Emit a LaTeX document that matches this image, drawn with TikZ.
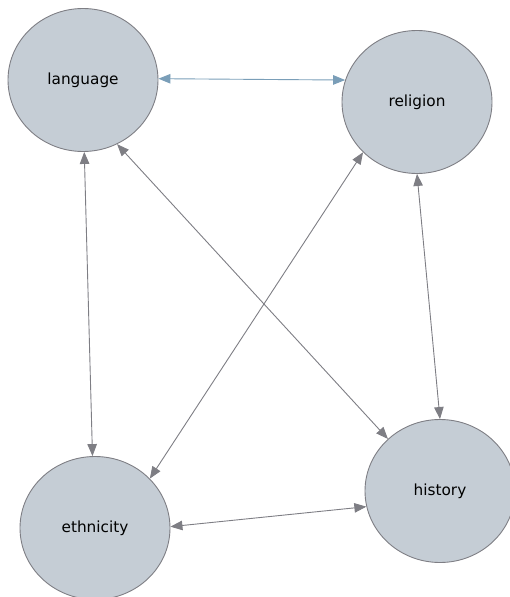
\documentclass[tikz,border=0pt]{standalone}
\usepackage{fontspec}
\setmainfont{DejaVu Sans}
\usepackage{tikz}
\usetikzlibrary{positioning}
\usetikzlibrary{shapes.geometric}
\usetikzlibrary{arrows.meta}
\pgfdeclarelayer{nodelayer}
\pgfdeclarelayer{edgelayer}
\pgfsetlayers{nodelayer,edgelayer,main}
\definecolor{topicfill}{HTML}{C5CDD5}
\definecolor{topicline}{HTML}{7E7E84}
\definecolor{linkgray}{HTML}{7E7E84}
\definecolor{linkblue}{HTML}{7A9EB8}
\tikzset{
    topic/.style = {ellipse, draw=topicline, fill=topicfill, line width=0.9pt,
                    minimum width=150pt, minimum height=143pt, inner sep=0pt,
                    font=\fontsize{15.3}{18}\selectfont},
    link/.style = {draw=linkgray, line width=0.9pt,
                   {Triangle[length=12pt,width=9.5pt]}-{Triangle[length=12pt,width=9.5pt]}},
    bluelink/.style = {link, draw=linkblue}
}
\begin{document}
\begin{tikzpicture}[x=1pt, y=-1pt]
  \useasboundingbox (0, 0) rectangle (509, 597);
  \begin{pgfonlayer}{nodelayer}
    \node [style=topic] (language) at (83, 80) {language};
    \node [style=topic] (religion) at (417, 102) {religion};
    \node [style=topic] (ethnicity) at (95, 528) {ethnicity};
    \node [style=topic] (history) at (440, 491) {history};
  \end{pgfonlayer}
  \begin{pgfonlayer}{edgelayer}
    \draw [style=bluelink] (language.1) to (religion.163);
    \draw [style=link] (language.-89) to (ethnicity.92);
    \draw [style=link] (language.-62) to (history.135);
    \draw [style=link] (religion.223) to (ethnicity.42);
    \draw [style=link] (religion.-90) to (history.90);
    \draw [style=link] (ethnicity.1) to (history.-168);
  \end{pgfonlayer}
\end{tikzpicture}
\end{document}
